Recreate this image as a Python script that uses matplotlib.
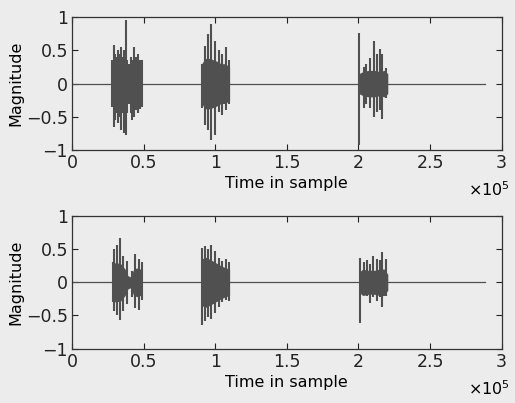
import matplotlib.pyplot as plt
from matplotlib.ticker import FuncFormatter

# signal length (samples)
sig_len = 288500

# top panel: spikes (sample position, upper peak, lower peak)
top_x = [28000, 29000, 30000, 31000, 32000, 33500, 34500, 35500, 36500, 37300, 38000, 39000, 40000,
         41000, 42000, 43500, 44500, 46000, 47500, 48500,
         91000, 92800, 95000, 97300, 100000, 102300, 104500, 107500, 109800,
         200300, 203700, 205500, 208200, 210900, 212700, 215000, 216800, 219100]
top_hi = [0.35, 0.58, 0.45, 0.40, 0.50, 0.45, 0.55, 0.40, 0.50, 0.96, 0.35, 0.25, 0.30,
          0.40, 0.35, 0.55, 0.40, 0.45, 0.35, 0.35,
          0.30, 0.57, 0.75, 0.90, 0.65, 0.50, 0.45, 0.55, 0.35,
          0.77, 0.25, 0.30, 0.38, 0.65, 0.45, 0.52, 0.45, 0.23]
top_lo = [-0.35, -0.65, -0.55, -0.45, -0.60, -0.50, -0.70, -0.45, -0.75, -0.78, -0.45, -0.25, -0.30,
          -0.45, -0.55, -0.50, -0.40, -0.45, -0.38, -0.35,
          -0.37, -0.62, -0.70, -0.85, -0.77, -0.43, -0.48, -0.40, -0.30,
          -0.92, -0.37, -0.30, -0.37, -0.50, -0.43, -0.40, -0.54, -0.22]
# dense body of each burst (sample position, half amplitude)
top_body_x = [[27600, 29000, 33000, 37000, 38500, 40000, 42000, 45000, 47000, 48700],
              [90500, 93000, 96000, 100000, 104000, 107000, 110000],
              [200300, 203000, 207000, 211000, 215000, 218000, 220500]]
top_body_a = [[0.2, 0.3, 0.25, 0.25, 0.12, 0.1, 0.25, 0.28, 0.25, 0.2],
              [0.3, 0.38, 0.38, 0.35, 0.3, 0.3, 0.25],
              [0.15, 0.18, 0.2, 0.2, 0.18, 0.2, 0.15]]

# bottom panel
bot_x = [28300, 29400, 31200, 33500, 35800, 38000, 41900, 44100, 46400, 48700,
         91000, 92800, 95000, 97300, 100000, 102300, 104500, 107500, 109800,
         201000, 203700, 205900, 208200, 210500, 212700, 215000, 216800, 219100]
bot_hi = [0.30, 0.50, 0.57, 0.67, 0.40, 0.32, 0.17, 0.42, 0.35, 0.30,
          0.52, 0.55, 0.50, 0.57, 0.47, 0.37, 0.32, 0.35, 0.30,
          0.37, 0.30, 0.33, 0.28, 0.40, 0.35, 0.33, 0.46, 0.35]
bot_lo = [-0.30, -0.44, -0.49, -0.57, -0.44, -0.32, -0.22, -0.39, -0.42, -0.26,
          -0.64, -0.59, -0.52, -0.55, -0.47, -0.37, -0.30, -0.27, -0.28,
          -0.61, -0.15, -0.20, -0.31, -0.22, -0.28, -0.22, -0.38, -0.20]
bot_body_x = [[28000, 30000, 34000, 37000, 39000, 41000, 43000, 46000, 49000],
              [90500, 93000, 96000, 100000, 104000, 107000, 110000],
              [200500, 203000, 207000, 211000, 215000, 218000, 220500]]
bot_body_a = [[0.2, 0.3, 0.28, 0.2, 0.1, 0.08, 0.2, 0.22, 0.18],
              [0.35, 0.38, 0.35, 0.3, 0.25, 0.22, 0.2],
              [0.15, 0.2, 0.18, 0.18, 0.2, 0.2, 0.12]]

bg = '#ececec'
wave = '#505050'
plt.rcParams['font.family'] = ['DejaVu Sans']

fig = plt.figure(figsize=(5.15, 4.03), dpi=100, facecolor=bg)
ax1 = fig.add_axes([0.14, 0.628, 0.834, 0.329])
ax2 = fig.add_axes([0.14, 0.135, 0.834, 0.329])


def draw(ax, xs, hi, lo, bx, ba):
    ax.set_facecolor(bg)
    ax.plot([0, sig_len], [0, 0], color=wave, lw=0.9)
    for px, pa in zip(bx, ba):
        ax.fill_between(px, [-a for a in pa], pa, color=wave, lw=0)
    ax.vlines(xs, lo, hi, color=wave, lw=1.5)
    ax.set_xlim(0, 300000)
    ax.set_ylim(-1, 1)
    ax.set_xticks([0, 50000, 100000, 150000, 200000, 250000, 300000])
    ax.set_yticks([-1, -0.5, 0, 0.5, 1])
    ax.xaxis.set_major_formatter(FuncFormatter(lambda v, p: '%g' % (v / 1e5)))
    ax.yaxis.set_major_formatter(FuncFormatter(lambda v, p: ('%g' % v).replace('-', '\u2212')))
    ax.tick_params(direction='in', top=True, right=True, length=4, labelsize=12.5,
                   colors='#222222', pad=3)
    for s in ax.spines.values():
        s.set_color('#333333')
        s.set_linewidth(0.9)
    ax.set_xlabel('Time in sample', fontsize=11.5, labelpad=3)
    ax.set_ylabel('Magnitude', fontsize=11.5, labelpad=2)
    ax.text(1.02, -0.3, r'$\times\mathregular{10^5}$', transform=ax.transAxes,
            ha='right', va='center', fontsize=11.5)


draw(ax1, top_x, top_hi, top_lo, top_body_x, top_body_a)
draw(ax2, bot_x, bot_hi, bot_lo, bot_body_x, bot_body_a)

fig.savefig('out.png', dpi=100, facecolor=bg)
